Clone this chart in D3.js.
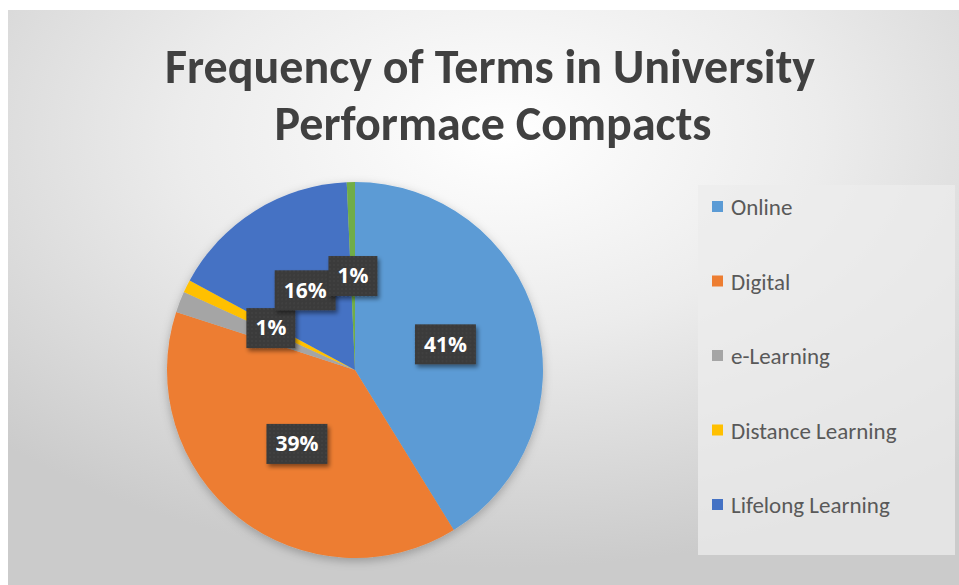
<!DOCTYPE html>
<html>
<head>
<meta charset="utf-8">
<script src="https://cdn.jsdelivr.net/npm/d3@7"></script>
<style>
  html, body { margin: 0; padding: 0; background: #fff; }
  svg { display: block; }
</style>
</head>
<body>
<div id="chart"></div>
<script>
// pie data
const terms = ["Online", "Digital", "e-Learning", "Distance Learning", "Lifelong Learning", "Other"];
const shares = [41.2, 38.8, 1.8, 1.1, 16.4, 0.7];
const colors = ["#5b9bd5", "#ed7d31", "#a5a5a5", "#ffc000", "#4472c4", "#70ad47"];
const labelShown = [true, true, false, true, true, true];
const legendTerms = terms.slice(0, 5); // legend is cut off after 5 entries

const width = 959, height = 585;

const svg = d3.select("#chart").append("svg")
    .attr("width", width)
    .attr("height", height);

const defs = svg.append("defs");

const bg = defs.append("radialGradient")
    .attr("id", "bg")
    .attr("cx", "52%").attr("cy", "22%").attr("r", "75%");
bg.append("stop").attr("offset", "0%").attr("stop-color", "#ffffff");
bg.append("stop").attr("offset", "45%").attr("stop-color", "#ececec");
bg.append("stop").attr("offset", "100%").attr("stop-color", "#cbcbcb");

const shadow = defs.append("filter").attr("id", "shadow")
    .attr("x", "-20%").attr("y", "-20%").attr("width", "140%").attr("height", "140%");
shadow.append("feDropShadow")
    .attr("dx", 0).attr("dy", 3).attr("stdDeviation", 5)
    .attr("flood-color", "#000").attr("flood-opacity", 0.25);

const boxShadow = defs.append("filter").attr("id", "boxShadow")
    .attr("x", "-30%").attr("y", "-30%").attr("width", "160%").attr("height", "160%");
boxShadow.append("feDropShadow")
    .attr("dx", 2).attr("dy", 3).attr("stdDeviation", 2)
    .attr("flood-color", "#000").attr("flood-opacity", 0.45);

const dots = defs.append("pattern").attr("id", "dots")
    .attr("width", 4).attr("height", 4).attr("patternUnits", "userSpaceOnUse");
dots.append("rect").attr("width", 4).attr("height", 4).attr("fill", "#3a3a3a");
dots.append("circle").attr("cx", 1).attr("cy", 1).attr("r", 0.7).attr("fill", "#4d4d4d");

// chart area (white margin top/left like the screenshot)
svg.append("rect")
    .attr("x", 8).attr("y", 10)
    .attr("width", width - 8).attr("height", height - 10)
    .attr("fill", "url(#bg)");

// title
const title = svg.append("g")
    .attr("font-family", "Carlito, Calibri, 'Open Sans', sans-serif")
    .attr("font-weight", 700)
    .attr("font-size", 49)
    .attr("fill", "#404040")
    .attr("text-anchor", "middle");
title.append("text").attr("x", 490).attr("y", 83)
    .attr("textLength", 650).attr("lengthAdjust", "spacingAndGlyphs")
    .text("Frequency of Terms in University");
title.append("text").attr("x", 493).attr("y", 140)
    .attr("textLength", 437).attr("lengthAdjust", "spacingAndGlyphs")
    .text("Performace Compacts");

// pie
const cx = 355, cy = 370, radius = 188;
const data = terms.map((t, i) => ({ term: t, value: shares[i], color: colors[i], show: labelShown[i] }));

const pie = d3.pie().sort(null).value(d => d.value);
const arc = d3.arc().innerRadius(0).outerRadius(radius);
const labelArc = d3.arc().innerRadius(radius * 0.5).outerRadius(radius * 0.5);
const arcs = pie(data);

const g = svg.append("g").attr("transform", `translate(${cx},${cy})`);

g.append("g").attr("filter", "url(#shadow)")
    .selectAll("path")
    .data(arcs)
    .enter().append("path")
    .attr("d", arc)
    .attr("fill", d => d.data.color);

const total = d3.sum(shares);
const labels = g.append("g")
    .selectAll("g")
    .data(arcs.filter(d => d.data.show))
    .enter().append("g")
    .attr("transform", d => `translate(${labelArc.centroid(d)})`);

labels.append("text")
    .attr("class", "lbl")
    .attr("text-anchor", "middle")
    .attr("dy", "0.35em")
    .attr("font-family", "'Open Sans', sans-serif")
    .attr("font-weight", 700)
    .attr("font-size", 21)
    .attr("fill", "#fff")
    .text(d => Math.round(d.data.value / total * 100) + "%");

labels.each(function () {
    const grp = d3.select(this);
    const w = grp.select("text").node().getComputedTextLength() + 18;
    grp.insert("rect", "text")
        .attr("x", -w / 2).attr("y", -20)
        .attr("width", w).attr("height", 40)
        .attr("fill", "url(#dots)")
        .attr("filter", "url(#boxShadow)");
});

// legend
const legend = svg.append("g");
legend.append("rect")
    .attr("x", 698).attr("y", 185)
    .attr("width", 257).attr("height", 370)
    .attr("fill", "#ececec").attr("opacity", 0.75);

const ly = d3.scalePoint().domain(legendTerms).range([207, 505]);

const item = legend.selectAll("g.item")
    .data(legendTerms)
    .enter().append("g")
    .attr("class", "item")
    .attr("transform", d => `translate(712,${ly(d)})`);

item.append("rect")
    .attr("x", 0).attr("y", -6)
    .attr("width", 11).attr("height", 11)
    .attr("fill", (d, i) => colors[i]);

item.append("text")
    .attr("x", 19).attr("dy", "0.35em")
    .attr("font-family", "Carlito, Calibri, 'Open Sans', sans-serif")
    .attr("font-size", 23)
    .attr("fill", "#595959")
    .text(d => d);
</script>
</body>
</html>
